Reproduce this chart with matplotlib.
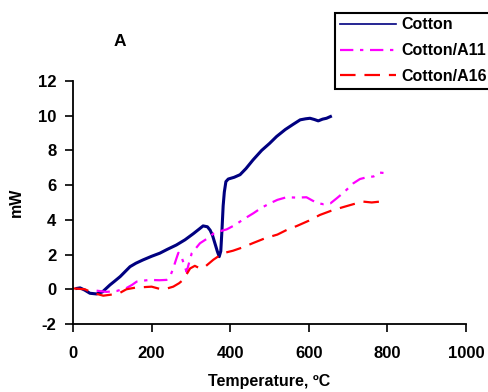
import matplotlib.pyplot as plt

plt.rcParams['font.family'] = ['Liberation Sans', 'DejaVu Sans']
plt.rcParams['font.weight'] = 'bold'
plt.rcParams['axes.unicode_minus'] = False

# DSC curves, temperature in C, heat flow in mW
cotton_t = [10, 18, 30, 43, 60, 75, 94, 105, 120, 145, 160, 178, 200, 221, 240,
            263, 285, 306, 320, 331, 342, 349, 355, 361, 367, 372, 376, 379,
            382, 385, 389, 395, 410, 425, 440, 458, 480, 500, 518, 540, 560,
            578, 592, 603, 614, 624, 635, 645, 655]
cotton_mw = [0.05, 0.08, -0.05, -0.23, -0.27, -0.15, 0.25, 0.45, 0.73, 1.3, 1.5,
             1.69, 1.9, 2.08, 2.3, 2.55, 2.85, 3.2, 3.45, 3.65, 3.6, 3.4, 3.1,
             2.65, 2.2, 1.88, 2.2, 3.4, 4.8, 5.6, 6.2, 6.35, 6.45, 6.6, 6.95,
             7.45, 8.0, 8.4, 8.8, 9.2, 9.5, 9.76, 9.82, 9.85, 9.78, 9.7, 9.8,
             9.85, 9.95]

a11_t = [60, 85, 111, 136, 150, 162, 180, 196, 220, 238, 248, 255, 262, 268,
         274, 280, 289, 295, 302, 323, 340, 357, 375, 391, 412, 435, 459, 480,
         501, 520, 543, 570, 594, 610, 625, 637, 655, 671, 690, 713, 730, 747,
         765, 781, 790]
a11_mw = [-0.08, -0.15, -0.1, 0.07, 0.25, 0.44, 0.5, 0.54, 0.52, 0.54, 0.8,
          1.2, 1.7, 2.1, 2.0, 1.6, 1.0, 1.5, 2.07, 2.65, 2.9, 3.2, 3.35, 3.45,
          3.7, 4.05, 4.38, 4.7, 4.95, 5.15, 5.3, 5.28, 5.3, 5.1, 4.95, 4.9,
          4.95, 5.24, 5.6, 6.1, 6.35, 6.45, 6.5, 6.72, 6.7]

a16_t = [0, 30, 50, 77, 100, 120, 136, 160, 178, 200, 221, 240, 255, 270, 280,
         290, 298, 310, 323, 336, 357, 370, 382, 407, 430, 459, 490, 520, 544,
         570, 600, 628, 660, 690, 713, 738, 760, 781, 790]
a16_mw = [0.05, 0.0, -0.2, -0.37, -0.3, -0.2, 0.0, 0.1, 0.12, 0.15, 0.02, 0.05,
          0.15, 0.35, 0.54, 0.9, 1.2, 1.35, 1.2, 1.3, 1.7, 1.9, 2.08, 2.22,
          2.4, 2.67, 2.95, 3.15, 3.42, 3.65, 3.95, 4.28, 4.55, 4.75, 4.9, 5.05,
          5.0, 5.05, 5.05]

fig = plt.figure(figsize=(4.88, 3.92), dpi=100)
ax = fig.add_axes([0.1496, 0.1735, 0.8054, 0.62])

ax.plot(cotton_t, cotton_mw, color='#000080', lw=2.2, label='Cotton')
ax.plot(a11_t, a11_mw, color='#FF00FF', lw=1.6, ls=(0, (6, 3, 1.5, 3)),
        label='Cotton/A11')
ax.plot(a16_t, a16_mw, color='#FF0000', lw=1.6, ls=(0, (7, 4)),
        label='Cotton/A16')

ax.set_xlim(0, 1000)
ax.set_ylim(-2, 12)
ax.set_xticks([0, 200, 400, 600, 800, 1000])
ax.set_yticks([-2, 0, 2, 4, 6, 8, 10, 12])
ax.tick_params(labelsize=12, width=1.2, length=6, direction='out')
ax.tick_params(axis='x', pad=10)
ax.tick_params(axis='y', pad=6)
for s in ['top', 'right']:
    ax.spines[s].set_visible(False)
for s in ['left', 'bottom']:
    ax.spines[s].set_linewidth(1.3)

ax.set_xlabel('Temperature, ºC', fontsize=11.5, fontweight='bold', labelpad=9)
ax.set_ylabel('mW', fontsize=11.5, fontweight='bold', labelpad=10)

fig.text(120 / 488, 1 - 41.5 / 392, 'A', fontsize=12.5, fontweight='bold',
         ha='center', va='center')

leg = fig.legend(loc='upper left', bbox_to_anchor=(335 / 488, 1 - 12.5 / 392),
                 fontsize=11.5, handlelength=3.5, labelspacing=0.68,
                 borderpad=0.3, handletextpad=0.37, fancybox=False,
                 framealpha=1, edgecolor='black', borderaxespad=0)
leg.get_frame().set_linewidth(1.5)
leg.get_lines()[0].set_linewidth(1.2)

fig.savefig('out.png', dpi=100)
